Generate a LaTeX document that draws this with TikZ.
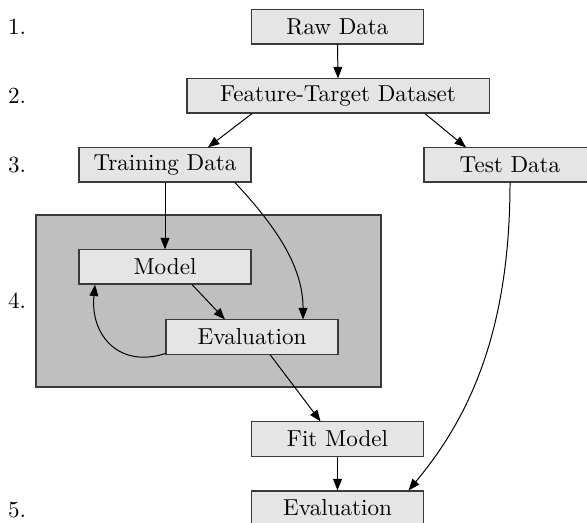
\documentclass[tikz,border=0pt]{standalone}
\usetikzlibrary{arrows.meta}
\definecolor{boxfill}{HTML}{E5E5E5}
\definecolor{groupfill}{HTML}{BFBFBF}
\definecolor{edge}{HTML}{3A3A3A}
\newcommand{\stepfont}{\fontsize{10.5}{12.6}\selectfont}
\begin{document}
\begin{tikzpicture}[
  x=0.4545pt, y=-0.4545pt,
  stepbox/.style={draw=edge, line width=0.5pt, fill=boxfill, minimum width=78.2pt,
    minimum height=15.5pt, inner sep=0pt, font=\stepfont},
  widebox/.style={stepbox, minimum width=137.3pt},
  flow/.style={draw=black, line width=0.45pt, -{Triangle[length=5.2pt,width=4pt]}},
  stagelabel/.style={inner sep=0pt, font=\stepfont}
]
\useasboundingbox (0,0) rectangle (587,523);
\clip (0,0) rectangle (587,523);

% grouped stage: model selection loop
\draw[draw=edge, line width=0.5pt, fill=groupfill] (36,215) rectangle (381,387);

% stage numbers
\node[stagelabel] (l1) at (17,27) {1.};
\node[stagelabel] (l2) at (17,96) {2.};
\node[stagelabel] (l3) at (17,165) {3.};
\node[stagelabel] (l4) at (17,301) {4.};
\node[stagelabel] (l5) at (17,510) {5.};

% pipeline steps
\node[stepbox] (raw) at (337.5,27) {Raw Data};
\node[widebox] (fd) at (338,96) {Feature-Target Dataset};
\node[stepbox] (train) at (165,165) {Training Data};
\node[stepbox] (test) at (510,165) {Test Data};
\node[stepbox] (model) at (165,267) {Model};
\node[stepbox] (evala) at (252,337) {Evaluation};
\node[stepbox] (fit) at (337.5,439) {Fit Model};
\node[stepbox] (evalb) at (337.5,508) {Evaluation};

% connectors
\draw[flow] (raw.south) -- (fd.north);
\draw[flow] ([xshift=-39.1pt]fd.south) -- ([xshift=19.5pt]train.north);
\draw[flow] ([xshift=39.5pt]fd.south) -- ([xshift=-20pt]test.north);
\draw[flow] (train.south) -- (model.north);
\draw[flow] ([xshift=31.8pt]train.south) .. controls +(45,48) and +(0,-50) .. ([xshift=23.2pt]evala.north);
\draw[flow] ([xshift=12.3pt]model.south) -- ([xshift=-12.3pt]evala.north);
\draw[flow] ([yshift=0.5pt]evala.south west) .. controls +(-46,15) and +(-5,51) .. ([xshift=-31.8pt]model.south);
\draw[flow] ([xshift=8.2pt]evala.south) -- ([xshift=-7.7pt]fit.north);
\draw[flow] (test.south) .. controls +(0,150) and +(60,-72) .. ([xshift=32.3pt]evalb.north);
\draw[flow] (fit.south) -- (evalb.north);
\end{tikzpicture}
\end{document}
